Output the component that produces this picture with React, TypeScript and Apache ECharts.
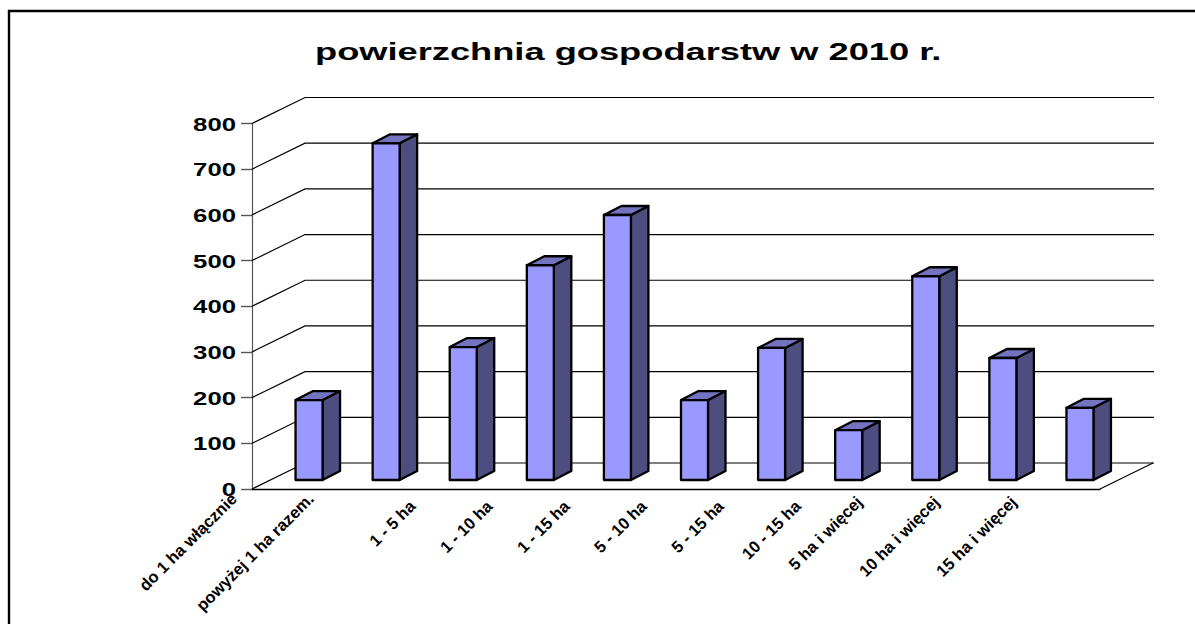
import React, { useEffect, useRef } from "react";
import * as echarts from "echarts";

const titleText = "powierzchnia gospodarstw w 2010 r.";
const categories = [
  "do 1 ha włącznie",
  "powyżej 1 ha razem.",
  "1 - 5 ha",
  "1 - 10 ha",
  "1 - 15 ha",
  "5 - 10 ha",
  "5 - 15 ha",
  "10 - 15 ha",
  "5 ha i więcej",
  "10 ha i więcej",
  "15 ha i więcej",
];
const values = [175, 737, 291, 470, 580, 175, 289, 109, 446, 267, 158];
const wallTicks = [0, 100, 200, 300, 400, 500, 600, 700, 800];
const labelStyleKeys = ["a", "a", "b", "b", "b", "b", "b", "b", "c", "c", "c"];

const DEPTH_X = 53;
const DEPTH_Y = 26;
const BAR_DX = 18.5;
const BAR_HALF = 13.5;
const BAR_DEPTH_X = 17.5;
const BAR_DEPTH_Y = 9;
const BAR_LIFT = 9;
const FRONT = "#9999FF";
const SIDE = "#4D4D80";
const TOP = "#7373BF";
const xLabelFont = { fontFamily: "Liberation Sans", fontWeight: "bold", fontSize: 16.5, color: "#000" };

export default function App() {
  const ref = useRef<HTMLDivElement>(null);
  useEffect(() => {
    const chart = echarts.init(ref.current!, null, { renderer: "svg" });
    chart.setOption({
      animation: false,
      backgroundColor: "#ffffff",
      graphic: [
        {
          type: "rect",
          silent: true,
          shape: { x: 9, y: 11, width: 1300, height: 800 },
          style: { fill: "none", stroke: "#000", lineWidth: 2.4 },
        },
        {
          type: "text",
          x: 315,
          y: 39.5,
          scaleX: 1.511,
          style: {
            text: titleText,
            fill: "#000",
            font: "bold 24px 'Liberation Sans', Arial, sans-serif",
          },
        },
      ],
      grid: { left: 252, right: 95, top: 123.5, height: 365.5, containLabel: false },
      xAxis: {
        type: "category",
        data: categories,
        axisLine: { show: true, lineStyle: { color: "#000", width: 1.4 } },
        axisTick: { show: false },
        axisLabel: {
          interval: 0,
          rotate: 45,
          margin: 0,
          hideOverlap: false,
          formatter: (v: string) => `{${labelStyleKeys[categories.indexOf(v)]}|${v}}`,
          rich: {
            a: { padding: [0, 45, 71, 0], ...xLabelFont },
            b: { padding: [0, 33, 26, 0], ...xLabelFont },
            c: { padding: [0, 41, 54, 0], ...xLabelFont },
          },
        },
      },
      yAxis: {
        type: "value",
        min: 0,
        max: 800,
        interval: 100,
        axisLine: { show: true, lineStyle: { color: "#555", width: 1.2 } },
        axisTick: { show: true, length: 11, lineStyle: { color: "#555", width: 1.4 } },
        axisLabel: { show: false },
        splitLine: { show: false },
      },
      series: [
        {
          type: "custom",
          coordinateSystem: "cartesian2d",
          silent: true,
          clip: false,
          z: 1,
          encode: { x: 0, y: 1 },
          data: wallTicks.map((t) => [0, t]),
          renderItem: (params: any, api: any) => {
            const cs = params.coordSys;
            const y = api.coord([0, api.value(1)])[1];
            const left = cs.x;
            const right = cs.x + cs.width;
            const els: any[] = [
              {
                type: "polyline",
                shape: {
                  points: [
                    [left, y],
                    [left + DEPTH_X, y - DEPTH_Y],
                    [right + DEPTH_X + 1, y - DEPTH_Y],
                  ],
                },
                style: { fill: "none", stroke: "#000", lineWidth: 1.2 },
              },
              {
                type: "text",
                x: left - 16,
                y: y + 1,
                scaleX: 1.43,
                style: {
                  text: String(api.value(1)),
                  fill: "#000",
                  align: "right",
                  verticalAlign: "middle",
                  font: "bold 18px 'Liberation Sans', Arial, sans-serif",
                },
              },
            ];
            if (api.value(1) === 0) {
              els.push({
                type: "line",
                shape: { x1: right, y1: y, x2: right + DEPTH_X, y2: y - DEPTH_Y },
                style: { stroke: "#000", lineWidth: 1.2 },
              });
            }
            return { type: "group", children: els };
          },
        },
        {
          type: "custom",
          coordinateSystem: "cartesian2d",
          silent: true,
          clip: false,
          z: 3,
          encode: { x: 0, y: 1 },
          data: values.map((v, i) => [i, v]),
          renderItem: (_params: any, api: any) => {
            const top = api.coord([api.value(0), api.value(1)]);
            const base = api.coord([api.value(0), 0]);
            const x0 = top[0] + BAR_DX - BAR_HALF;
            const x1 = top[0] + BAR_DX + BAR_HALF;
            const yT = top[1] - BAR_LIFT;
            const yB = base[1] - BAR_LIFT;
            const border = { stroke: "#000", lineWidth: 2.3, lineJoin: "round" };
            return {
              type: "group",
              children: [
                {
                  type: "polygon",
                  shape: { points: [[x1, yT], [x1 + BAR_DEPTH_X, yT - BAR_DEPTH_Y], [x1 + BAR_DEPTH_X, yB - BAR_DEPTH_Y], [x1, yB]] },
                  style: { fill: SIDE, ...border },
                },
                {
                  type: "polygon",
                  shape: { points: [[x0, yT], [x0 + BAR_DEPTH_X, yT - BAR_DEPTH_Y], [x1 + BAR_DEPTH_X, yT - BAR_DEPTH_Y], [x1, yT]] },
                  style: { fill: TOP, ...border },
                },
                {
                  type: "polygon",
                  shape: { points: [[x0, yT], [x1, yT], [x1, yB], [x0, yB]] },
                  style: { fill: FRONT, ...border },
                },
              ],
            };
          },
        },
      ],
    });
    return () => chart.dispose();
  }, []);
  return <div ref={ref} style={{ position: "fixed", left: 0, top: 0, width: 1195, height: 624 }} />;
}
